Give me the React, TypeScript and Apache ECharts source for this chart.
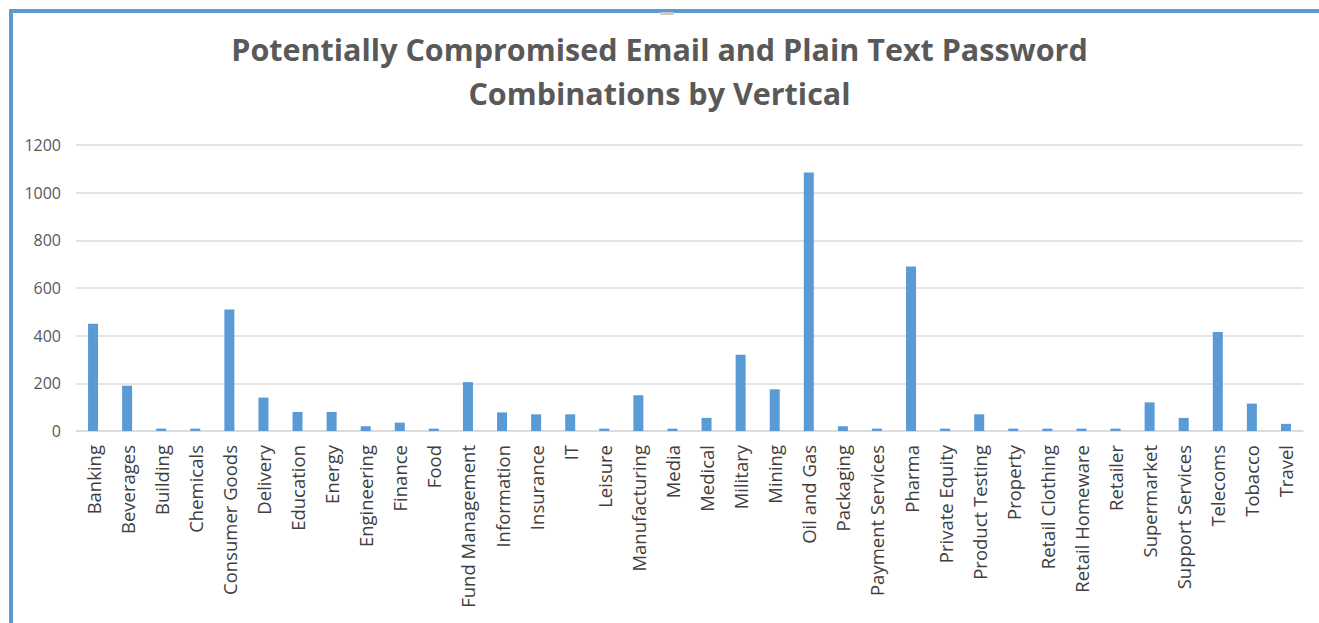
import React, { useEffect, useRef } from "react";
import * as echarts from "echarts";

const categories = [
  "Banking", "Beverages", "Building", "Chemicals", "Consumer Goods", "Delivery",
  "Education", "Energy", "Engineering", "Finance", "Food", "Fund Management",
  "Information", "Insurance", "IT", "Leisure", "Manufacturing", "Media",
  "Medical", "Military", "Mining", "Oil and Gas", "Packaging", "Payment Services",
  "Pharma", "Private Equity", "Product Testing", "Property", "Retail Clothing",
  "Retail Homeware", "Retailer", "Supermarket", "Support Services", "Telecoms",
  "Tobacco", "Travel",
];

const values = [
  450, 190, 10, 10, 510, 140,
  80, 80, 20, 35, 10, 205,
  78, 70, 70, 10, 150, 10,
  55, 320, 175, 1085, 20, 10,
  690, 10, 70, 10, 10,
  10, 10, 120, 55, 415,
  115, 30,
];

const yTicks = [0, 200, 400, 600, 800, 1000, 1200];

const titleText = "Potentially Compromised Email and Plain Text Password\nCombinations by Vertical";

export default function App() {
  const ref = useRef<HTMLDivElement>(null);

  useEffect(() => {
    document.body.style.margin = "0";
    if (!ref.current) return;
    const chart = echarts.init(ref.current, null, { renderer: "svg" });
    chart.setOption({
      animation: false,
      backgroundColor: "#ffffff",
      title: {
        text: titleText,
        left: "center",
        top: 22,
        textStyle: {
          fontFamily: "Open Sans",
          fontWeight: "bold",
          fontSize: 30.5,
          lineHeight: 44,
          color: "#595959",
        },
      },
      grid: { left: 76, right: 16, top: 145, bottom: 192, containLabel: false },
      xAxis: {
        type: "category",
        data: categories,
        axisTick: { show: false },
        axisLine: { lineStyle: { color: "#d9d9d9", width: 1.5 } },
        axisLabel: {
          rotate: 90,
          interval: 0,
          margin: 14,
          fontFamily: "Open Sans",
          fontSize: 18.5,
          color: "#404040",
        },
      },
      yAxis: {
        type: "value",
        min: yTicks[0],
        max: yTicks[yTicks.length - 1],
        interval: 200,
        axisLine: { show: false },
        axisTick: { show: false },
        splitLine: { lineStyle: { color: "#dcdcdc", width: 1.5 } },
        axisLabel: {
          margin: 15,
          fontFamily: "Open Sans",
          fontSize: 16,
          color: "#595959",
          formatter: (v: number) => String(v),
        },
      },
      series: [
        {
          type: "bar",
          data: values,
          barWidth: 10,
          itemStyle: { color: "#5b9bd5" },
        },
      ],
      graphic: [
        { type: "rect", shape: { x: 9, y: 9, width: 1310, height: 4 }, style: { fill: "#5b9bd5" } },
        { type: "rect", shape: { x: 9, y: 9, width: 4, height: 614 }, style: { fill: "#5b9bd5" } },
        { type: "rect", shape: { x: 660, y: 12, width: 14, height: 3, r: 1 }, style: { fill: "#c8c8c8" } },
      ],
    });
    return () => chart.dispose();
  }, []);

  return <div ref={ref} style={{ width: 1319, height: 623 }} />;
}
